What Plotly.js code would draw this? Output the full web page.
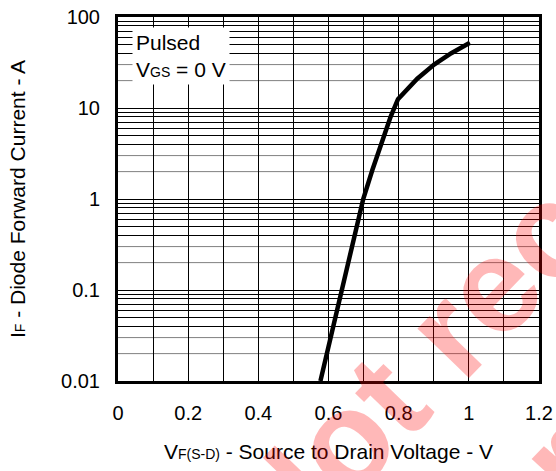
<!DOCTYPE html>
<html>
<head>
<meta charset="utf-8">
<script src="https://cdn.plot.ly/plotly-3.0.1.min.js"></script>
<style>html,body{margin:0;padding:0;background:#fff;}#chart{width:556px;height:471px;}</style>
</head>
<body>
<div id="chart"></div>
<script>
// Curve: source-to-drain voltage (V) vs diode forward current (A)
var voltage = [0.577, 0.639, 0.699, 0.725, 0.753, 0.777, 0.798, 0.853, 0.901, 0.95, 1.003];
var current = [0.01, 0.1, 1.0, 2.08, 4.45, 8.0, 12.5, 21.0, 30.0, 40.0, 52.0];

// Axis ticks
var xTickVals = [0, 0.2, 0.4, 0.6, 0.8, 1.0, 1.2];
var xTickText = ['0', '0.2', '0.4', '0.6', '0.8', '1', '1.2'];
var yTickVals = [0.01, 0.1, 1, 10, 100];
var yTickText = ['0.01', '0.1', '1', '10', '100'];
var decades = [0.01, 0.1, 1, 10];
var blackMinorDigits = [4, 5, 6, 7, 8, 9];
var greyMinorDigits = [2, 3];

var blackMinor = [];
var greyMinor = [];
decades.forEach(function (d) {
  blackMinorDigits.forEach(function (k) { blackMinor.push(+(d * k).toPrecision(3)); });
  greyMinorDigits.forEach(function (k) { greyMinor.push(+(d * k).toPrecision(3)); });
});

var FONT = 'Arial, "Liberation Sans", sans-serif';

var shapes = greyMinor.map(function (v) {
  return {type: 'line', xref: 'paper', yref: 'y', x0: 0, x1: 1, y0: v, y1: v,
          line: {color: '#808080', width: 1}, layer: 'below'};
});

var trace = {
  x: voltage, y: current, type: 'scatter', mode: 'lines',
  line: {color: '#000', width: 4.5}, showlegend: false, hoverinfo: 'skip'
};

var layout = {
  width: 556, height: 471,
  margin: {l: 118, r: 17, t: 17, b: 90},
  paper_bgcolor: '#fff', plot_bgcolor: '#fff',
  font: {family: FONT, color: '#000', size: 20},
  showlegend: false,
  xaxis: {
    range: [0, 1.2], tickvals: xTickVals, ticktext: xTickText,
    showgrid: true, gridcolor: '#000', gridwidth: 1,
    minor: {dtick: 0.1, tick0: 0, showgrid: true, gridcolor: '#000', gridwidth: 1, ticks: ''},
    showline: true, linecolor: '#000', linewidth: 3, mirror: true,
    ticks: '', ticklabelstandoff: 12, zeroline: false,
    tickfont: {family: FONT, size: 20, color: '#000'},
    title: {text: 'V<span style="font-size:14px">F(S-D)</span> - Source to Drain Voltage - V',
            font: {family: FONT, size: 21, color: '#000'}, standoff: 22}
  },
  yaxis: {
    type: 'log', range: [-2, 2], tickvals: yTickVals, ticktext: yTickText,
    showgrid: true, gridcolor: '#000', gridwidth: 1,
    minor: {tickvals: blackMinor, showgrid: true, gridcolor: '#000', gridwidth: 1, ticks: ''},
    showline: true, linecolor: '#000', linewidth: 3, mirror: true,
    ticks: '', ticklabelstandoff: 11, zeroline: false,
    tickfont: {family: FONT, size: 20, color: '#000'},
    title: {text: 'I<span style="font-size:14px">F</span> - Diode Forward Current - A',
            font: {family: FONT, size: 21, color: '#000'}, standoff: 30}
  },
  shapes: shapes,
  annotations: [
    {xref: 'paper', yref: 'paper', x: 0.033, y: 0.972, xanchor: 'left', yanchor: 'top',
     text: 'Pulsed<br>V<span style="font-size:14px">GS</span> = 0 V', align: 'left',
     showarrow: false, bgcolor: '#fff', borderpad: 3,
     font: {family: FONT, size: 21, color: '#000'}},
    {xref: 'paper', yref: 'paper', x: 1.285, y: 0.731, xanchor: 'center', yanchor: 'middle',
     text: '<b>Not recommended</b>', textangle: -46, showarrow: false,
     font: {family: FONT, size: 135, color: 'rgba(255,0,0,0.28)'}},
    {xref: 'paper', yref: 'paper', x: 1.586, y: 0.412, xanchor: 'center', yanchor: 'middle',
     text: '<b>for new design</b>', textangle: -46, showarrow: false,
     font: {family: FONT, size: 135, color: 'rgba(255,0,0,0.28)'}}
  ]
};

Plotly.newPlot('chart', [trace], layout, {staticPlot: true, displayModeBar: false});
</script>
</body>
</html>
